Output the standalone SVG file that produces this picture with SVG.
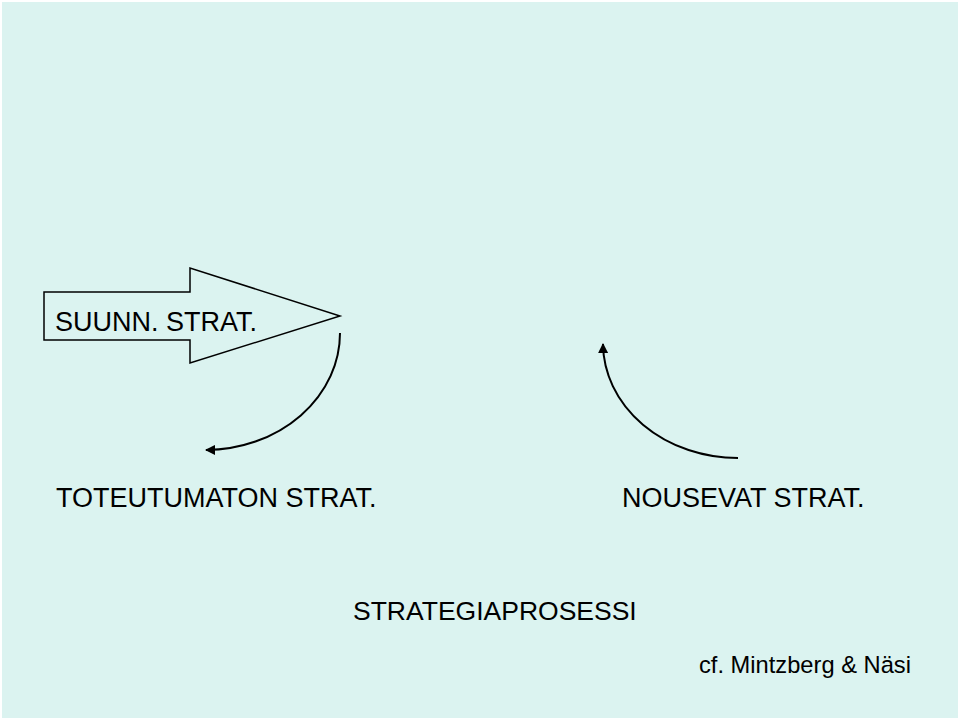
<svg xmlns="http://www.w3.org/2000/svg" width="960" height="720" viewBox="0 0 960 720">
<defs>
<style>
.t{font-family:"Liberation Sans",Arial,sans-serif;fill:#000;}
.c{fill:none;stroke:#000;stroke-width:2;}
</style>
<marker id="ah" viewBox="0 0 10 10" refX="9" refY="5" markerWidth="5" markerHeight="5" orient="auto" markerUnits="strokeWidth">
<path d="M0,0 L10,5 L0,10 z" fill="#000"/>
</marker>
</defs>
<rect x="0" y="0" width="960" height="720" fill="#ffffff"/>
<rect x="2" y="2" width="956" height="716" fill="#DBF3F0"/>
<g id="suunn">
<polygon points="44,292 190,292 190,268 340,316 190,363 190,340 44,340" fill="none" stroke="#000" stroke-width="1.5"/>
<text class="t" x="55" y="331" font-size="27">SUUNN. STRAT.</text>
</g>
<g id="toteutumaton">
<text class="t" x="56" y="507" font-size="27">TOTEUTUMATON STRAT.</text>
</g>
<g id="nousevat">
<text class="t" x="622" y="507" font-size="27">NOUSEVAT STRAT.</text>
</g>
<g id="strategiaprosessi">
<text class="t" x="353" y="620" font-size="26.5">STRATEGIAPROSESSI</text>
</g>
<g id="cf">
<text class="t" x="699" y="673" font-size="23.7">cf. Mintzberg &amp; Näsi</text>
</g>
<g id="connectors">
<path class="c" d="M340,333 A135,117 0 0 1 206,450" marker-end="url(#ah)"/>
<path class="c" d="M738,458 A135,115 0 0 1 603,344" marker-end="url(#ah)"/>
</g>
</svg>
